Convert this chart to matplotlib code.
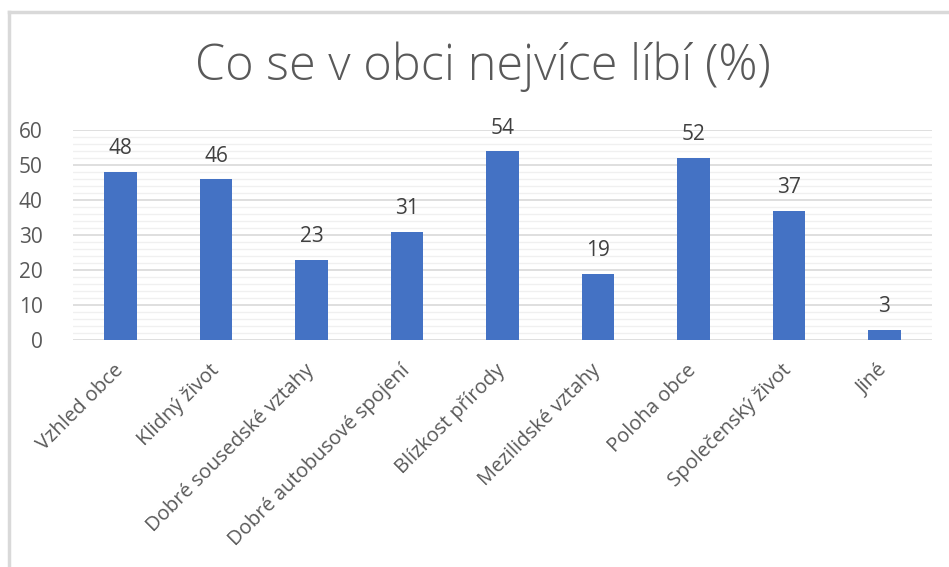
import numpy as np
import matplotlib.pyplot as plt
from matplotlib.lines import Line2D
from matplotlib.ticker import MultipleLocator

plt.rcParams['font.family'] = ['Open Sans', 'DejaVu Sans']

kategorie = ['Vzhled obce', 'Klidný život', 'Dobré sousedské vztahy',
             'Dobré autobusové spojení', 'Blízkost přírody', 'Mezilidské vztahy',
             'Poloha obce', 'Společenský život', 'Jiné']
hodnoty = [48, 46, 23, 31, 54, 19, 52, 37, 3]

fig = plt.figure(figsize=(9.49, 5.67), dpi=100)
ax = fig.add_axes([73 / 949, 1 - 340 / 567, (932 - 73) / 949, 210 / 567])

x = np.arange(len(kategorie))
ax.bar(x, hodnoty, width=0.34, color='#4472C4', zorder=3)
for xi, v in zip(x, hodnoty):
    ax.annotate(str(v), (xi, v), xytext=(0, 9), textcoords='offset points',
                ha='center', va='bottom', fontsize=15, color='#404040')

ax.set_xlim(-0.5, len(kategorie) - 0.5)
ax.set_ylim(0, 60)
ax.yaxis.set_major_locator(MultipleLocator(10))
ax.yaxis.set_minor_locator(MultipleLocator(2))
ax.grid(axis='y', which='major', color='#D9D9D9', linewidth=1.2, zorder=0)
ax.grid(axis='y', which='minor', color='#F0F0F0', linewidth=1.0, zorder=0)
ax.set_axisbelow(True)
for s in ax.spines.values():
    s.set_visible(False)
ax.tick_params(axis='both', which='both', length=0)
ax.tick_params(axis='y', labelsize=15, labelcolor='#595959', pad=22)
ax.set_xticks(x)
ax.set_xticklabels(kategorie, rotation=45, ha='right', va='center',
                   rotation_mode='anchor', fontsize=14.5, color='#595959')
ax.tick_params(axis='x', pad=20)

fig.text(483 / 949, 1 - 67 / 567, 'Co se v obci nejvíce líbí (%)', ha='center',
         va='center', fontsize=35, color='#595959', fontweight='light')

# rámeček grafu
fig.add_artist(Line2D([9 / 949, 9 / 949], [0, 1 - 12 / 567], color='#D9D9D9', lw=2.5))
fig.add_artist(Line2D([9 / 949, 1], [1 - 12 / 567, 1 - 12 / 567], color='#D9D9D9', lw=2.5))

fig.savefig('out.png', dpi=100)
